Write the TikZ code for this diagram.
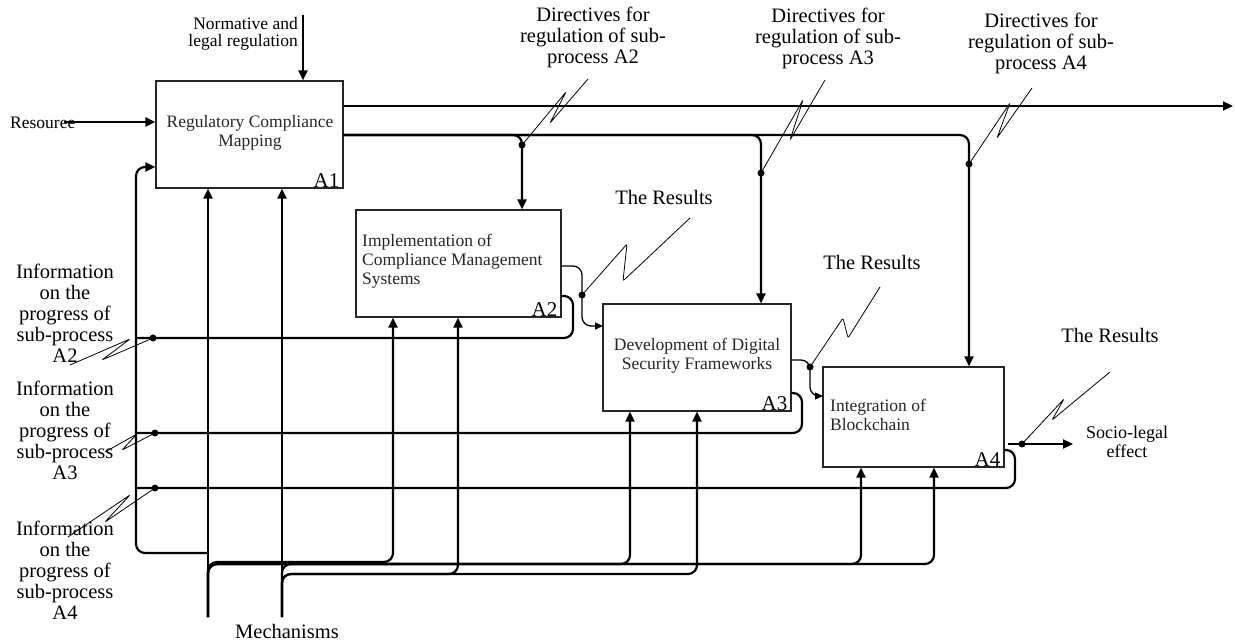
\documentclass[tikz,border=0pt]{standalone}
\usepackage{fontspec}
\setmainfont{Liberation Serif}
\usetikzlibrary{arrows.meta}
\begin{document}
\begin{tikzpicture}[x=1pt,y=-1pt,
  box/.style={draw=black!85,line width=1.1pt,inner sep=0pt},
  boxtxt/.style={font=\fontsize{17.5}{19}\selectfont,inner sep=0pt,text=black!85},
  lbl/.style={font=\fontsize{20.5}{21}\selectfont,align=center,inner sep=0pt},
  slbl/.style={font=\fontsize{17.5}{17.5}\selectfont,inner sep=0pt},
  num/.style={font=\fontsize{21}{21}\selectfont,inner xsep=4pt,inner ysep=1pt,anchor=south east},
  thk/.style={line width=2.2pt},
  med/.style={line width=1.3pt},
  thn/.style={line width=0.8pt,rounded corners=2pt},
  arr/.style={-{Triangle[length=10pt,width=9pt]}},
  sarr/.style={-{Triangle[length=8pt,width=7pt]}},
  dotn/.style={circle,fill=black,inner sep=0pt,minimum size=7pt},
  rc/.style={rounded corners=9pt}]
\useasboundingbox (0,0) rectangle (1235,644);

% boxes
\node[box,minimum width=187pt,minimum height=107pt] (A1) at (249.5,134.5) {};
\node[box,minimum width=205pt,minimum height=107pt] (A2) at (458.5,263.5) {};
\node[box,minimum width=188pt,minimum height=107pt] (A3) at (697,357.5) {};
\node[box,minimum width=181pt,minimum height=100pt] (A4) at (913.5,417) {};

\node[boxtxt,align=center] (t1) at (250,133) {Regulatory Compliance\\Mapping};
\node[boxtxt,align=left,anchor=west] (t2) at (362,261) {Implementation of\\Compliance Management\\Systems};
\node[boxtxt,align=center] (t3) at (697,356) {Development of Digital\\Security Frameworks};
\node[boxtxt,align=left,anchor=west] (t4) at (830,415) {Integration of\\Blockchain};

\node[num] (n1) at (A1.south east) {A1};
\node[num] (n2) at (A2.south east) {A2};
\node[num] (n3) at (A3.south east) {A3};
\node[num] (n4) at (A4.south east) {A4};

% labels
\node[slbl,align=right,anchor=east] (norm) at (298,34) {Normative and\\legal regulation};
\node[slbl,anchor=west] (res) at (10,123) {Resouree};
\node[lbl] (dir2) at (593,37) {Directives for\\regulation of sub-\\process A2};
\node[lbl] (dir3) at (828,38) {Directives for\\regulation of sub-\\process A3};
\node[lbl] (dir4) at (1041,43) {Directives for\\regulation of sub-\\process A4};
\node[lbl] (r2) at (664,197) {The Results};
\node[lbl] (r3) at (872,262) {The Results};
\node[lbl] (r4) at (1110,335) {The Results};
\node[lbl] (inf2) at (65,313) {Information\\on the\\progress of\\sub-process\\A2};
\node[lbl] (inf3) at (65,430) {Information\\on the\\progress of\\sub-process\\A3};
\node[lbl] (inf4) at (65,570) {Information\\on the\\progress of\\sub-process\\A4};
\node[lbl] (mech) at (287,631) {Mechanisms};
\node[font=\fontsize{18}{19}\selectfont,align=center,inner sep=0pt] (soc) at (1127,442) {Socio-legal\\effect};

% dots
\node[dotn] (d2) at (522,145) {};
\node[dotn] (d3) at (761,173) {};
\node[dotn] (d4) at (969,164) {};
\node[dotn] (d5) at (582,295) {};
\node[dotn] (d6) at (810,367) {};
\node[dotn] (d7) at (1022,444) {};
\node[dotn] (d8) at (153,338) {};
\node[dotn] (d9) at (155,433) {};
\node[dotn] (d10) at (155,488) {};

% coordinates
\coordinate (nrS) at (303,15);
\coordinate (rsS) at (64,122);
\coordinate (outE) at (1233,106);
\coordinate (c2) at (522,135);
\coordinate (c3) at (761,135);
\coordinate (c4) at (969,135);
\coordinate (o2) at (582,266);
\coordinate (i3) at (603,326);
\coordinate (o3) at (810,360);
\coordinate (i4) at (823,396);
\coordinate (so) at (1073,444);
\coordinate (f2a) at (573,296);
\coordinate (f2b) at (573,338);
\coordinate (lx2) at (136,338);
\coordinate (f3a) at (802,393);
\coordinate (f3b) at (802,433);
\coordinate (lx3) at (136,433);
\coordinate (f4a) at (1015,450);
\coordinate (f4b) at (1015,488);
\coordinate (lx4) at (136,488);
\coordinate (lb0) at (208,553);
\coordinate (lb) at (136,553);
\coordinate (lt) at (136,167);
\coordinate (m1) at (208,617);
\coordinate (m2) at (282,617);
\coordinate (b1) at (208,562);
\coordinate (b1e) at (393,562);
\coordinate (b2) at (208,564);
\coordinate (b2e) at (630,564);
\coordinate (b3e) at (861,564);
\coordinate (b4e) at (934,564);
\coordinate (b5) at (282,574);
\coordinate (b5e) at (458,574);
\coordinate (b6e) at (697,574);
\coordinate (b7) at (282,564);
\coordinate (b7e) at (400,564);

% control / input / output
\draw[thk,arr] (nrS) -- (nrS |- A1.north);
\draw[thk,arr] (rsS) -- (rsS -| A1.west);
\draw[thk,arr] (A1.east |- outE) -- (outE);
\draw[thk,arr,rc] (A1.east |- c2) -- (c2) -- (c2 |- A2.north);
\draw[thk,arr,rc] (A1.east |- c3) -- (c3) -- (c3 |- A3.north);
\draw[thk,arr,rc] (A1.east |- c4) -- (c4) -- (c4 |- A4.north);
\draw[med,sarr,rc] (A2.east |- o2) -- (o2) -- (o2 |- i3) -- (i3);
\draw[med,sarr,rc] (A3.east |- o3) -- (o3) -- (o3 |- i4) -- (i4);
\draw[thk,arr] ([xshift=3pt]A4.east |- so) -- (so);

% feedback
\draw[thk,rc] (A2.east |- f2a) -- (f2a) -- (f2b) -- (lx2);
\draw[thk,rc] (A3.east |- f3a) -- (f3a) -- (f3b) -- (lx3);
\draw[thk,rc] (A4.east |- f4a) -- (f4a) -- (f4b) -- (lx4);
\draw[thk,arr,rc] (lb0) -- (lb) -- (lt) -- (lt -| A1.west);

% mechanisms
\draw[thk,arr] (m1) -- (m1 |- A1.south);
\draw[thk,arr] (m2) -- (m2 |- A1.south);
\draw[thk,arr,rc] (m1) -- (b1) -- (b1e) -- (b1e |- A2.south);
\draw[thk,arr,rc] (m1) -- (b2) -- (b2e) -- (b2e |- A3.south);
\draw[thk,arr,rc] (m1) -- (b2) -- (b3e) -- (b3e |- A4.south);
\draw[thk,arr,rc] (m1) -- (b2) -- (b4e) -- (b4e |- A4.south);
\draw[thk,arr,rc] (m2) -- (b5) -- (b5e) -- (b5e |- A2.south);
\draw[thk,arr,rc] (m2) -- (b5) -- (b6e) -- (b6e |- A3.south);
\draw[thk,rc] (m2) -- (b7) -- (b7e);

% squiggles
\draw[thn] (588,79) -- (550,123) -- (566,92) -- (d2.center);
\draw[thn] (825,80) -- (790,140) -- (803,100) -- (d3.center);
\draw[thn] (1032,88) -- (997,138) -- (1010,103) -- (d4.center);
\draw[thn] (d5.center) -- (627,244) -- (623,281) -- (690,218);
\draw[thn] (d6.center) -- (843,318) -- (848,338) -- (880,287);
\draw[thn] (d7.center) -- (1064,399) -- (1052,420) -- (1110,372);
\draw[thn] (d8.center) -- (102,360) -- (130,339) -- (70,365);
\draw[thn] (d9.center) -- (122,450) -- (137,434) -- (105,452);
\draw[thn] (d10.center) -- (105,522) -- (130,495) -- (68,537);
\end{tikzpicture}
\end{document}
